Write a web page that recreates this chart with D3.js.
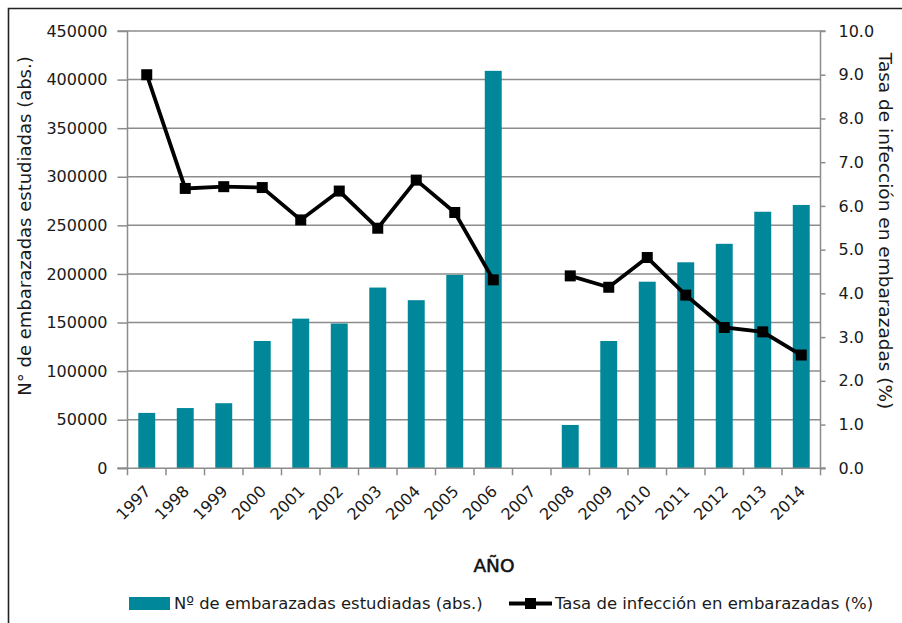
<!DOCTYPE html>
<html>
<head>
<meta charset="utf-8">
<script src="https://cdn.jsdelivr.net/npm/d3@7/dist/d3.min.js"></script>
<style>
  html, body { margin: 0; padding: 0; background: #fff; }
  svg { display: block; }
  text { font-family: "DejaVu Sans", Verdana, sans-serif; fill: #1a1a1a; }
</style>
</head>
<body>
<svg id="chart" width="902" height="623"></svg>
<script>
const years = ["1997","1998","1999","2000","2001","2002","2003","2004","2005","2006","2007","2008","2009","2010","2011","2012","2013","2014"];
const studied = [57000, 62000, 67000, 131000, 154000, 149000, 186000, 173000, 199000, 409000, null, 44600, 131000, 192000, 212000, 231000, 264000, 271000];
const rate = [9.0, 6.40, 6.44, 6.42, 5.68, 6.34, 5.49, 6.59, 5.85, 4.31, null, 4.40, 4.14, 4.82, 3.96, 3.22, 3.12, 2.59];
const leftTicks = [0, 50000, 100000, 150000, 200000, 250000, 300000, 350000, 400000, 450000];
const rightTicks = [0, 1, 2, 3, 4, 5, 6, 7, 8, 9, 10];

const barLabel = "Nº de embarazadas estudiadas (abs.)";
const lineLabel = "Tasa de infección en embarazadas (%)";
const leftTitle = "N° de embarazadas estudiadas (abs.)";
const rightTitle = "Tasa de infección en embarazadas (%)";
const xTitle = "AÑO";

const svg = d3.select("#chart");
const W = 902, H = 623;
const m = { left: 127.5, right: 820.5, top: 31, bottom: 468.3 };

const grid = "#8c8c8c";
const teal = "#00889a";
const tickFont = "16px";

// frame
svg.append("path")
  .attr("d", `M8.5,${H + 2} L8.5,8.5 L${W + 2},8.5`)
  .attr("fill", "none").attr("stroke", "#222").attr("stroke-width", 1.6);

const x = d3.scaleBand().domain(years).range([m.left, m.right]).paddingInner(0).paddingOuter(0);
const yL = d3.scaleLinear().domain([0, 450000]).range([m.bottom, m.top]);
const yR = d3.scaleLinear().domain([0, 10]).range([m.bottom, m.top]);

// gridlines
svg.append("g").selectAll("line").data(leftTicks.slice(1)).join("line")
  .attr("x1", m.left).attr("x2", m.right)
  .attr("y1", d => yL(d)).attr("y2", d => yL(d))
  .attr("stroke", grid).attr("stroke-width", 1.5);

// bars
const bw = x.bandwidth() * 0.44;
svg.append("g").selectAll("rect").data(years.map((y, i) => ({ y, v: studied[i] })).filter(d => d.v != null)).join("rect")
  .attr("x", d => x(d.y) + x.bandwidth() / 2 - bw / 2)
  .attr("width", bw)
  .attr("y", d => yL(d.v))
  .attr("height", d => yL(0) - yL(d.v))
  .attr("fill", teal);

// left axis
const axL = svg.append("g").attr("transform", `translate(${m.left},0)`)
  .call(d3.axisLeft(yL).tickValues(leftTicks).tickFormat(d3.format("d")).tickSize(10).tickPadding(10));
axL.select(".domain").attr("stroke", grid).attr("stroke-width", 1.5).attr("d", `M-10,${m.top}H0V${m.bottom}H-10`);
axL.selectAll(".tick line").attr("stroke", grid).attr("stroke-width", 1.5);
axL.selectAll(".tick text").style("font-size", tickFont).attr("fill", "#1a1a1a").style("font-family", "'DejaVu Sans', sans-serif");

// right axis
const axR = svg.append("g").attr("transform", `translate(${m.right},0)`)
  .call(d3.axisRight(yR).tickValues(rightTicks).tickFormat(d3.format(".1f")).tickSize(5).tickPadding(13));
axR.select(".domain").attr("stroke", grid).attr("stroke-width", 1.5).attr("d", `M5,${m.top}H0V${m.bottom}H5`);
axR.selectAll(".tick line").attr("stroke", grid).attr("stroke-width", 1.5);
axR.selectAll(".tick text").style("font-size", tickFont).attr("fill", "#1a1a1a").style("font-family", "'DejaVu Sans', sans-serif");

// x axis
const gx = svg.append("g");
gx.append("line").attr("x1", m.left - 10).attr("x2", m.right + 5).attr("y1", m.bottom).attr("y2", m.bottom)
  .attr("stroke", grid).attr("stroke-width", 1.5);
const bounds = years.map(y => x(y)).concat([m.right]);
gx.selectAll("line.tk").data(bounds).join("line").attr("class", "tk")
  .attr("x1", d => d).attr("x2", d => d).attr("y1", m.bottom).attr("y2", m.bottom + 7)
  .attr("stroke", grid).attr("stroke-width", 1.5);
gx.selectAll("text").data(years).join("text")
  .attr("transform", d => `translate(${x(d) + x.bandwidth() / 2 + 5},${m.bottom + 24}) rotate(-45)`)
  .attr("text-anchor", "end")
  .style("font-size", tickFont)
  .text(d => d);

// line
const pts = years.map((y, i) => ({ y, v: rate[i] }));
const line = d3.line().defined(d => d.v != null).x(d => x(d.y) + x.bandwidth() / 2).y(d => yR(d.v));
svg.append("path").datum(pts).attr("d", line).attr("fill", "none").attr("stroke", "#000").attr("stroke-width", 3.8).attr("stroke-linejoin", "miter");
const ms = 11;
svg.append("g").selectAll("rect").data(pts.filter(d => d.v != null)).join("rect")
  .attr("x", d => x(d.y) + x.bandwidth() / 2 - ms / 2)
  .attr("y", d => yR(d.v) - ms / 2)
  .attr("width", ms).attr("height", ms).attr("fill", "#000");

// axis titles
svg.append("text").attr("transform", `translate(31,226) rotate(-90)`).attr("text-anchor", "middle")
  .style("font-size", "18px").text(leftTitle);
svg.append("text").attr("transform", `translate(879,231) rotate(90)`).attr("text-anchor", "middle")
  .style("font-size", "18.5px").text(rightTitle);
svg.append("text").attr("x", 494).attr("y", 572).attr("text-anchor", "middle")
  .style("font-size", "18.5px").style("fill", "#111").style("stroke", "#111").style("stroke-width", "0.5px").text(xTitle);

// legend
const lg = svg.append("g");
lg.append("rect").attr("x", 129).attr("y", 597).attr("width", 41).attr("height", 13).attr("fill", teal);
lg.append("text").attr("x", 174).attr("y", 609).style("font-size", "16.4px").text(barLabel);
lg.append("line").attr("x1", 509).attr("x2", 552).attr("y1", 603.5).attr("y2", 603.5).attr("stroke", "#000").attr("stroke-width", 3.8);
lg.append("rect").attr("x", 525).attr("y", 598).attr("width", 11).attr("height", 11).attr("fill", "#000");
lg.append("text").attr("x", 555).attr("y", 609).style("font-size", "16.5px").text(lineLabel);
</script>
</body>
</html>
